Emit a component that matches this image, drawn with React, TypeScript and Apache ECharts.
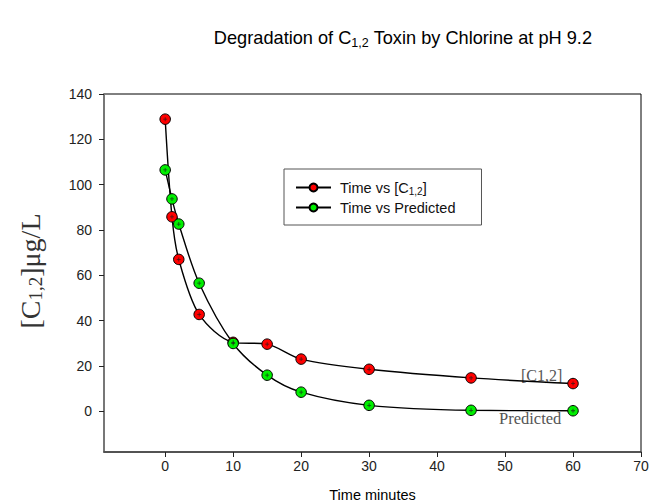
import React, { useEffect, useRef } from "react";
import * as echarts from "echarts";

// Sampling times (minutes)
const times = [0, 1, 2, 5, 10, 15, 20, 30, 45, 60];
// Measured C1,2 toxin concentration (µg/L)
const measured = [128.9, 85.8, 67.0, 42.7, 30.4, 29.6, 23.0, 18.5, 14.7, 12.2];
// Model-predicted concentration (µg/L)
const predicted = [106.5, 93.7, 82.6, 56.5, 29.9, 15.9, 8.4, 2.6, 0.4, 0.2];

const xTicks = [0, 10, 20, 30, 40, 50, 60, 70];
const yTicks = [0, 20, 40, 60, 80, 100, 120, 140];

const SANS = "'Liberation Sans', Arial, sans-serif";
const SERIF = "'Liberation Serif', 'Times New Roman', serif";

const pairs = (ys: number[]) => times.map((t, i) => [t, ys[i]]);

const plus = "path://M2,0H3V2H5V3H3V5H2V3H0V2H2Z";

export default function App() {
  const ref = useRef<HTMLDivElement>(null);

  useEffect(() => {
    if (!ref.current) return;
    const chart = echarts.init(ref.current, null, { renderer: "svg" });

    const lineSeries = (name: string, ys: number[], fill: string) => ({
      name,
      type: "line",
      data: pairs(ys),
      smooth: 0.3,
      symbol: "circle",
      symbolSize: 10.5,
      lineStyle: { color: "#000", width: 1.4 },
      itemStyle: { color: fill, borderColor: "#000", borderWidth: 1 },
      z: 3,
    });

    const crossSeries = (ys: number[]) => ({
      type: "scatter",
      data: pairs(ys),
      symbol: plus,
      symbolSize: 4,
      itemStyle: { color: "#1a1a1a" },
      silent: true,
      z: 5,
    });

    chart.setOption({
      animation: false,
      backgroundColor: "#fff",
      title: {
        text: "Degradation of C{sub|1,2} Toxin by Chlorine at pH 9.2",
        left: 398,
        top: 21,
        textAlign: "center",
        textStyle: {
          fontFamily: SANS,
          fontSize: 18.2,
          fontWeight: "normal",
          color: "#000",
          rich: {
            sub: { fontFamily: SANS, fontSize: 12.5, color: "#000", padding: [10, 0, 0, 0] },
          },
        },
      },
      legend: {
        data: ["Time vs [C1,2]", "Time vs Predicted"],
        orient: "vertical",
        left: 284,
        top: 169,
        padding: [11, 26, 10, 11],
        itemGap: 4,
        itemWidth: 35,
        itemHeight: 10,
        borderColor: "#555",
        borderWidth: 1,
        formatter: (n: string) => (n === "Time vs [C1,2]" ? "Time vs [C{sub|1,2}]" : n),
        textStyle: {
          fontFamily: SANS,
          fontSize: 14.5,
          color: "#111",
          padding: [0, 0, 0, 4],
          rich: {
            sub: { fontFamily: SANS, fontSize: 10, color: "#111", padding: [7, 0, 0, 0] },
          },
        },
      },
      grid: {
        left: 104,
        right: 11,
        top: 94,
        bottom: 52,
        outerBoundsMode: "none",
        containLabel: false,
        show: true,
        borderColor: "#000",
        borderWidth: 1,
      },
      xAxis: {
        type: "value",
        min: -9,
        max: 70,
        name: "Time minutes",
        nameLocation: "middle",
        nameGap: 35,
        nameTextStyle: { fontFamily: SANS, fontSize: 14.5, color: "#000" },
        splitLine: { show: false },
        axisLine: { show: true, onZero: false, lineStyle: { color: "#444", width: 1.5 } },
        axisTick: { show: true, length: 5, customValues: xTicks, lineStyle: { color: "#222" } },
        axisLabel: {
          customValues: xTicks,
          margin: 7,
          fontFamily: SANS,
          fontSize: 14,
          color: "#222",
        },
      },
      yAxis: {
        type: "value",
        min: -18,
        max: 140,
        splitLine: { show: false },
        axisLine: { show: true, onZero: false, lineStyle: { color: "#777", width: 2 } },
        axisTick: { show: true, length: 5, customValues: yTicks, lineStyle: { color: "#222" } },
        axisLabel: {
          customValues: yTicks,
          margin: 12,
          fontFamily: SANS,
          fontSize: 14,
          color: "#222",
        },
      },
      graphic: [
        {
          type: "text",
          x: 30,
          y: 271,
          rotation: Math.PI / 2,
          style: {
            text: "[C{sub|1,2}]μg/L",
            font: `28px ${SERIF}`,
            fill: "#333",
            align: "center",
            verticalAlign: "middle",
            rich: {
              sub: { font: `19px ${SERIF}`, fill: "#333", padding: [10, 0, 0, 0] },
            },
          },
        },
        {
          type: "text",
          x: 521,
          y: 375,
          style: {
            text: "[C1,2]",
            font: `16px ${SERIF}`,
            fill: "#555",
            verticalAlign: "middle",
          },
        },
        {
          type: "text",
          x: 499,
          y: 418,
          style: {
            text: "Predicted",
            font: `16.5px ${SERIF}`,
            fill: "#555",
            verticalAlign: "middle",
          },
        },
      ],
      series: [
        lineSeries("Time vs [C1,2]", measured, "#ff0000"),
        lineSeries("Time vs Predicted", predicted, "#00ee00"),
        crossSeries(measured),
        crossSeries(predicted),
      ],
    });

    return () => chart.dispose();
  }, []);

  return <div ref={ref} style={{ width: 652, height: 504, position: "absolute", left: 0, top: 0 }} />;
}
